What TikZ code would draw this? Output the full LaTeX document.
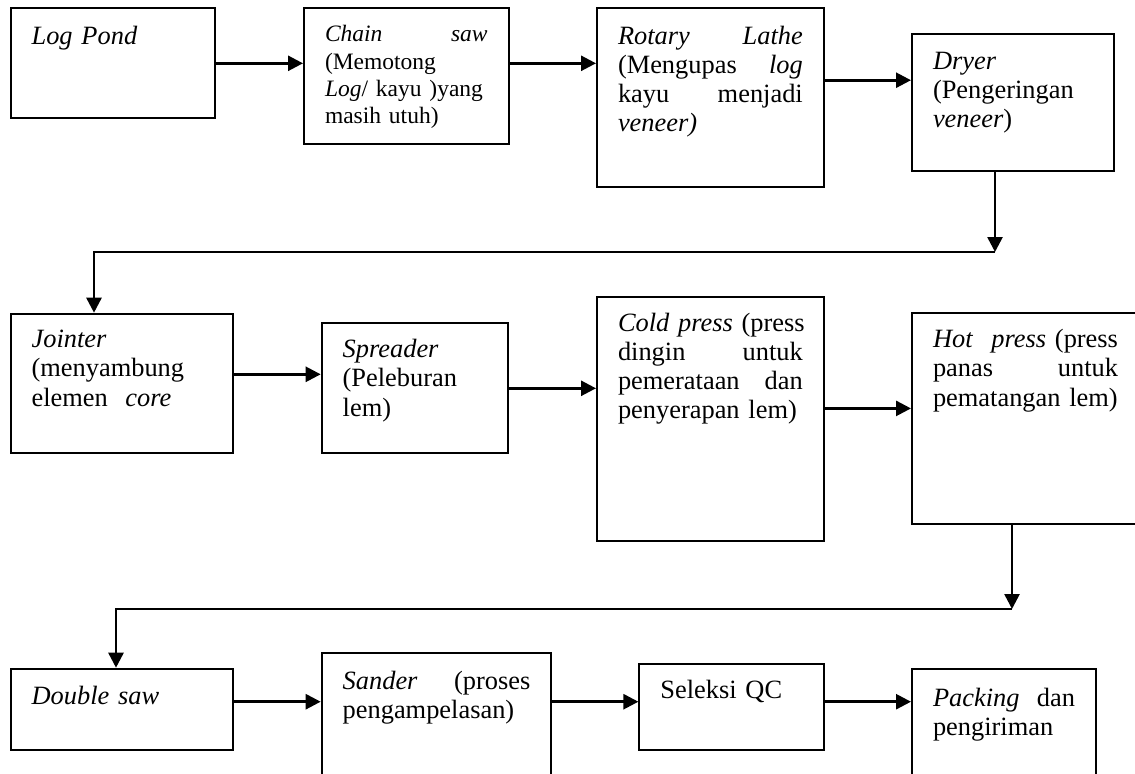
\documentclass[tikz,border=0pt]{standalone}
\usepackage{fontspec}
\setmainfont{Liberation Serif}
\usetikzlibrary{arrows.meta}

% stretchable gap that never breaks a line
\newcommand{\jgap}{\nobreak\hfill}

\begin{document}
\begin{tikzpicture}[
		x=0.5pt, y=-0.5pt,
		>={Triangle[length=7.5pt,width=7.5pt]},
		procbox/.style={
			draw,
			line width=1pt,
			anchor=north west,
			align=left,
			inner xsep=10.5pt,
			inner ysep=0pt,
			text height=17.5pt,
			font=\fontsize{13.2}{14.6}\selectfont
		},
		flow/.style={->, line width=1.3pt}
		]
		
		\path[use as bounding box, clip] (0,0) rectangle (1135,773);
		
		%--------------------------------------------------
		% Row 1
		%--------------------------------------------------
		
		\node (logpond) [procbox, text width=81.3pt, text height=18.3pt, text depth=36.7pt] at (9.6,7.3)
		{\textit{Log~Pond}};
		
		\node (chainsaw) [procbox, text width=81.3pt, text height=16.8pt, text depth=51.2pt,
			font=\fontsize{11.75}{13.6}\selectfont] at (303,7.3)
		{\textit{Chain}\jgap\textit{saw}\\ (Memotong\\ \textit{Log}/~kayu~)yang\\ masih~utuh)};
		
		\node (rotary) [procbox, text width=92.4pt, text height=18pt, text depth=71.3pt] at (596,7.3)
		{\textit{Rotary}\jgap\textit{Lathe}\\ (Mengupas\jgap\textit{log}\\ kayu\jgap menjadi\\ \textit{veneer)}};
		
		\node (dryer) [procbox, text width=79.8pt, text depth=50.8pt] at (911,33.3)
		{\textit{Dryer}\\ (Pengeringan\\ \textit{veneer})};
		
		%--------------------------------------------------
		% Row 2
		%--------------------------------------------------
		
		\node (jointer) [procbox, text width=90pt, text height=17pt, text depth=52.8pt] at (9.6,312.7)
		{\textit{Jointer}\\ (menyambung\\ elemen~~\textit{core}};
		
		\node (spreader) [procbox, text width=72.1pt, text height=17.2pt, text depth=47.8pt] at (320.7,322.3)
		{\textit{Spreader}\\ (Peleburan\\ lem)};
		
		\node (coldpress) [procbox, text width=92.4pt, text height=17pt, text depth=105pt] at (596,296)
		{\textit{Cold~press}~\jgap(press\\ dingin\jgap untuk\\ pemerataan\jgap dan\\ penyerapan~lem)};
		
		\node (hotpress) [procbox, text width=92.5pt, text height=17.2pt, text depth=88pt] at (911,312.3)
		{\textit{Hot}\jgap\textit{press}~(press\\ panas\jgap untuk\\ pematangan~lem)};
		
		%--------------------------------------------------
		% Row 3
		%--------------------------------------------------
		
		\node (doublesaw) [procbox, text width=90pt, text height=17.7pt, text depth=23.1pt] at (9.6,667.7)
		{\textit{Double~saw}};
		
		\node (sander) [procbox, text width=93.8pt, text height=18.2pt, text depth=56.8pt] at (320.7,651.7)
		{\textit{Sander}\jgap(proses\\ pengampelasan)};
		
		\node (seleksi) [procbox, text width=71.2pt, text height=17.3pt, text depth=25.7pt] at (638.4,663.3)
		{Seleksi~QC};
		
		\node (packing) [procbox, text width=71pt, text height=18.7pt, text depth=51.3pt] at (911,667.7)
		{\textit{Packing}\jgap dan\\ pengiriman};
		
		%--------------------------------------------------
		% Flow row 1
		%--------------------------------------------------
		
		\draw[flow]
		(logpond.east) -- (logpond.east -| chainsaw.west);
		
		\draw[flow]
		(chainsaw.east |- logpond.east) -- (rotary.west |- logpond.east);
		
		\draw[flow]
		([yshift=8.7pt]rotary.east) -- ([yshift=8.7pt]rotary.east -| dryer.west);
		
		%--------------------------------------------------
		% Turn to row 2
		%--------------------------------------------------
		
		\coordinate (turnA) at (995,252);
		\coordinate (turnB) at (94,252);
		
		\draw[flow]
		(dryer.south -| turnA) -- (turnA);
		
		\draw[flow]
		(turnA) -- (turnB) -- (turnB |- jointer.north);
		
		%--------------------------------------------------
		% Flow row 2
		%--------------------------------------------------
		
		\draw[flow]
		([yshift=4.6pt]jointer.east) -- ([yshift=4.6pt]jointer.east -| spreader.west);
		
		\draw[flow]
		(spreader.east) -- (spreader.east -| coldpress.west);
		
		\draw[flow]
		([yshift=5.3pt]coldpress.east) -- ([yshift=5.3pt]coldpress.east -| hotpress.west);
		
		%--------------------------------------------------
		% Turn to row 3
		%--------------------------------------------------
		
		\coordinate (turnC) at (1012,609);
		\coordinate (turnD) at (116,609);
		
		\draw[flow]
		(hotpress.south -| turnC) -- (turnC);
		
		\draw[flow]
		(turnC) -- (turnD) -- (turnD |- doublesaw.north);
		
		%--------------------------------------------------
		% Flow row 3
		%--------------------------------------------------
		
		\coordinate (rowC) at (0,701.7);
		
		\draw[flow]
		(doublesaw.east |- rowC) -- (sander.west |- rowC);
		
		\draw[flow]
		(sander.east |- rowC) -- (seleksi.west |- rowC);
		
		\draw[flow]
		(seleksi.east |- rowC) -- (packing.west |- rowC);
		
	\end{tikzpicture}
\end{document}
